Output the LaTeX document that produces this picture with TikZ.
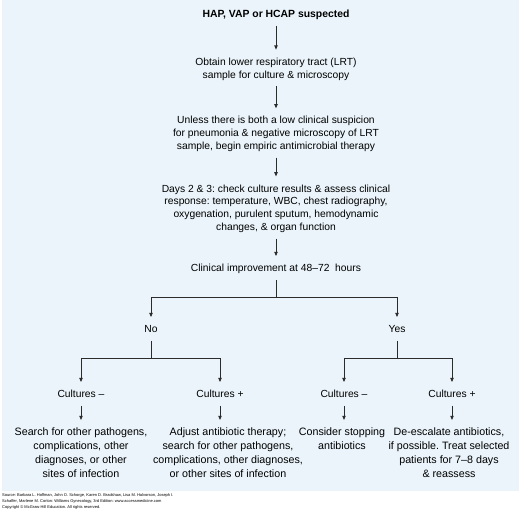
\documentclass[tikz,border=0pt]{standalone}
\usepackage{fontspec}
\setmainfont{Liberation Sans}
\usetikzlibrary{arrows.meta}
\definecolor{panel}{HTML}{EAF4FA}
\definecolor{ink}{HTML}{2B2B2B}
\frenchspacing
\begin{document}
\begin{tikzpicture}[x=1pt,y=-1pt,
  txt/.style={inner xsep=0pt,inner ysep=0pt,align=center,text=black,font=\fontsize{10.3}{12.7}\selectfont},
  btxt/.style={txt,font=\fontsize{10.7}{13.7}\selectfont},
  one/.style={txt,text height=7.5pt,text depth=2pt},
  conn/.style={draw=ink,line width=0.8pt},
  arr/.style={conn,-{Triangle[length=4.2pt,width=3.4pt]},shorten <=6pt,shorten >=8pt},
  arrb/.style={conn,-{Triangle[length=4.2pt,width=3.4pt]},shorten >=8pt}]
\useasboundingbox (0,0) rectangle (520,510);
\fill[panel] (2,0) rectangle (519,491);
% nodes
\node[one,font=\fontsize{10.4}{12.7}\selectfont\bfseries] (t) at (276,15) {HAP, VAP or HCAP suspected};
\node[txt] (n2) at (276,69) {Obtain lower respiratory tract (LRT)\\sample for culture \& microscopy};
\node[txt] (n3) at (276,134) {Unless there is both a low clinical suspicion\\for pneumonia \& negative microscopy of LRT\\sample, begin empiric antimicrobial therapy};
\node[txt] (n4) at (276,208.5) {Days 2 \& 3: check culture results \& assess clinical\\response: temperature, WBC, chest radiography,\\oxygenation, purulent sputum, hemodynamic\\changes, \& organ function};
\node[one] (n5) at (276,269) {Clinical improvement at 48--72\ \ hours};
\node[one] (no) at (151,330) {No};
\node[one] (yes) at (397,330) {Yes};
\node[one] (c1) at (81,395) {Cultures --};
\node[one] (c2) at (220,395) {Cultures +};
\node[one] (c3) at (344,395) {Cultures --};
\node[one] (c4) at (452,395) {Cultures +};
\node[btxt,anchor=north] (b1) at (81,428) {Search for other pathogens,\\complications, other\\diagnoses, or other\\sites of infection};
\node[btxt,anchor=north] (b2) at (228,428) {Adjust antibiotic therapy;\\search for other pathogens,\\complications, other diagnoses,\\or other sites of infection};
\node[btxt,anchor=north] (b3) at (342,428) {Consider stopping\\antibiotics};
\node[btxt,anchor=north] (b4) at (449,428) {De-escalate antibiotics,\\if possible. Treat selected\\patients for 7--8 days\\\& reassess};
\node[inner sep=0pt,anchor=north west,align=left,font=\fontsize{4}{6}\selectfont,text=black] (src) at (2,493) {Source: Barbara L. Hoffman, John O. Schorge, Karen D. Bradshaw, Lisa M. Halvorson, Joseph I.\\Schaffer, Marlene M. Corton: Williams Gynecology, 3rd Edition: www.accessmedicine.com\\Copyright \textcopyright{} McGraw-Hill Education. All rights reserved.};
% connectors
\draw[arr] (t) -- (n2);
\draw[arr] (n2) -- (n3);
\draw[arr] (n3) -- (n4);
\draw[arr] (n4) -- (n5);
\coordinate (j1) at (276,297);
\coordinate (j2) at (151,358);
\coordinate (j3) at (397,358);
\draw[conn,shorten <=6pt] (n5) -- (j1);
\draw[arrb] (j1) -| (no);
\draw[arrb] (j1) -| (yes);
\draw[conn,shorten <=6pt] (no) -- (j2);
\draw[conn,shorten <=6pt] (yes) -- (j3);
\draw[arrb] (j2) -| (c1);
\draw[arrb] (j2) -| (c2);
\draw[arrb] (j3) -| (c3);
\draw[arrb] (j3) -| (c4);
\draw[arr] (c1) -- (b1);
\draw[arr] (c2) -- (c2 |- b2.north);
\draw[arr] (c3) -- (c3 |- b3.north);
\draw[arr] (c4) -- (c4 |- b4.north);
\end{tikzpicture}
\end{document}
